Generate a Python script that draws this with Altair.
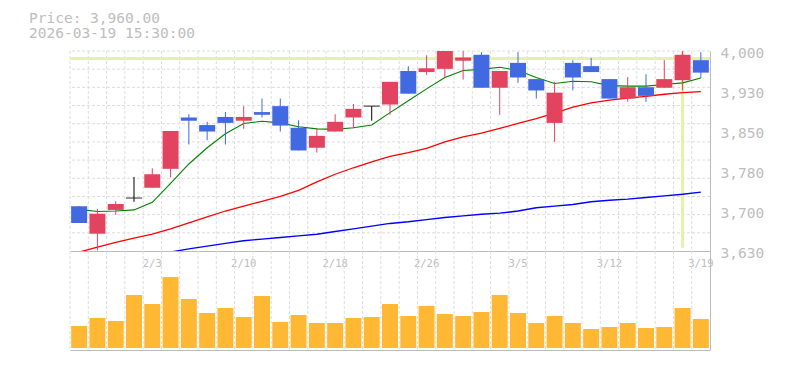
import altair as alt
import pandas as pd

# ---------------- data ----------------
dates = ["1/28", "1/29", "1/30", "2/2", "2/3", "2/4", "2/5", "2/6", "2/9", "2/10",
         "2/12", "2/13", "2/16", "2/17", "2/18", "2/19", "2/20", "2/24", "2/25", "2/26",
         "2/27", "3/2", "3/3", "3/4", "3/5", "3/6", "3/9", "3/10", "3/11", "3/12",
         "3/13", "3/16", "3/17", "3/18", "3/19"]
opens = [3713, 3662, 3706, 3728, 3747, 3782, 3877, 3863, 3878, 3871,
         3887, 3898, 3858, 3821, 3851, 3877, 3898, 3901, 3963, 3961,
         3967, 3982, 3993, 3932, 3978, 3948, 3867, 3978, 3972, 3948,
         3912, 3933, 3932, 3946, 3983]
highs = [3713, 3708, 3722, 3767, 3783, 3852, 3883, 3869, 3887, 3898,
         3912, 3912, 3872, 3857, 3883, 3902, 3898, 3943, 3972, 3992,
         4020, 4010, 3998, 3963, 3998, 3948, 3943, 3983, 3987, 3948,
         3952, 3957, 3983, 4010, 3998]
lows = [3682, 3631, 3697, 3721, 3747, 3766, 3827, 3835, 3827, 3856,
        3877, 3851, 3816, 3812, 3851, 3857, 3871, 3882, 3921, 3956,
        3951, 3947, 3932, 3882, 3941, 3912, 3832, 3927, 3961, 3912,
        3906, 3906, 3932, 3927, 3950]
closes = [3682, 3699, 3717, 3728, 3772, 3852, 3871, 3851, 3867, 3878,
          3882, 3862, 3816, 3843, 3869, 3893, 3898, 3943, 3921, 3968,
          4005, 3988, 3932, 3963, 3951, 3927, 3923, 3951, 3961, 3912,
          3933, 3917, 3948, 3993, 3960]
ma5 = [3707, 3703, 3704, 3706, 3720, 3755, 3791, 3821, 3847, 3866,
       3870, 3867, 3860, 3856, 3855, 3858, 3863, 3886, 3908, 3930,
       3951, 3964, 3966, 3970, 3964, 3951, 3940, 3944, 3943, 3936,
       3935, 3935, 3938, 3941, 3950]
ma25 = [3628, 3637, 3646, 3654, 3661, 3671, 3682, 3693, 3704, 3713,
        3722, 3731, 3742, 3758, 3772, 3784, 3795, 3805, 3812, 3820,
        3832, 3841, 3848, 3857, 3866, 3875, 3885, 3896, 3904, 3909,
        3913, 3916, 3920, 3923, 3925]
ma75 = [None, None, None, None, None, 3628, 3634, 3639, 3644, 3649,
        3652, 3655, 3658, 3661, 3666, 3671, 3676, 3681, 3684, 3688,
        3692, 3695, 3698, 3700, 3704, 3710, 3713, 3716, 3721, 3724,
        3726, 3729, 3732, 3735, 3739]
volumes = [220, 300, 270, 530, 440, 710, 490, 350, 400, 310,
           520, 260, 330, 250, 250, 300, 310, 440, 320, 420,
           340, 320, 360, 530, 350, 250, 320, 250, 190, 210,
           250, 200, 210, 400, 290]

x_labels = ["2/3", "2/10", "2/18", "2/26", "3/5", "3/12", "3/19"]
y_ticks = [3630, 3704, 3778, 3852, 3926, 4000]
price_domain = [3630, 4000]
volume_domain = [-20, 970]
title_lines = ["Price: 3,960.00", "2026-03-19 15:30:00"]
cursor_date = ["3/18"]
cursor_price = [3986]
cursor_span = [4000, 3636]

# ---------------- styles ----------------
RED = "#e2445f"
BLUE = "#4169e1"
VOL = "#ffb833"
GRID = "#dddddd"
AXIS = "#bbbbbb"
TXT = "#bdbdbd"
CROSS = "#e3f2a8"
FONT = "DejaVu Sans Mono"
W = 640
H_PRICE = 200
H_VOL = 99

n_grid = 11
grid_vals = [price_domain[0] + k * (price_domain[1] - price_domain[0]) / n_grid for k in range(1, n_grid + 1)]

def direction(o, c):
    if c > o:
        return "up"
    if c < o:
        return "down"
    return "flat"

candles = pd.DataFrame({
    "date": dates, "open": opens, "high": highs, "low": lows, "close": closes,
    "dir": [direction(o, c) for o, c in zip(opens, closes)],
})
ma_df = pd.DataFrame({"date": dates, "ma5": ma5, "ma25": ma25, "ma75": ma75})
vol_df = pd.DataFrame({"date": dates, "volume": volumes})
dates_df = pd.DataFrame({"date": dates})
grid_df = pd.DataFrame({"g": grid_vals})
cross_df = pd.DataFrame({"date": cursor_date, "p": cursor_price,
                         "top": [cursor_span[0]], "bottom": [cursor_span[1]]})

xscale = alt.Scale(domain=dates, paddingInner=0, paddingOuter=0)
yscale = alt.Scale(domain=price_domain, nice=False, zero=False)
vscale = alt.Scale(domain=volume_domain, nice=False, zero=False)

xaxis_price = alt.Axis(values=x_labels, labelAngle=0, ticks=False, tickSize=0, grid=False,
                       domain=True, domainColor=AXIS, labelFontSize=10.5, labelPadding=7,
                       labelColor=TXT, labelFont=FONT, title=None)
xaxis_vol = alt.Axis(labels=False, ticks=False, tickSize=0, grid=False, domain=True,
                     domainColor=AXIS, title=None)
yaxis_price = alt.Axis(orient="right", values=y_ticks,
                       labelExpr="format(round(datum.value / 10) * 10, ',')",
                       ticks=False, tickSize=0, grid=False, domain=True, domainColor=AXIS,
                       labelPadding=10, labelOffset=2, labelFontSize=14.5, labelColor=TXT,
                       labelFont=FONT, title=None)
yaxis_vol = alt.Axis(orient="right", labels=False, ticks=False, tickSize=0, grid=False,
                     domain=True, domainColor=AXIS, title=None)

X = alt.X("date:N", sort=dates, scale=xscale, axis=xaxis_price, title=None)
Xg = alt.X("date:N", sort=dates, scale=xscale, axis=xaxis_price, title=None, bandPosition=0)

def Yp(field):
    return alt.Y(field, scale=yscale, axis=yaxis_price, title=None)

color_dir = alt.Color("dir:N", scale=alt.Scale(domain=["up", "down", "flat"],
                                               range=[RED, BLUE, "black"]), legend=None)

# ---------------- price panel ----------------
vgrid = alt.Chart(dates_df).mark_rule(color=GRID, strokeDash=[3, 2], strokeWidth=1).encode(x=Xg)
hgrid = alt.Chart(grid_df).mark_rule(color=GRID, strokeDash=[3, 2], strokeWidth=1).encode(y=Yp("g:Q"))
cross_h = alt.Chart(cross_df).mark_rule(color=CROSS, strokeWidth=3).encode(y=Yp("p:Q"))
cross_v = alt.Chart(cross_df).mark_rule(color=CROSS, strokeWidth=3, clip=True).encode(
    x=X, y=Yp("top:Q"), y2="bottom:Q")

l75 = alt.Chart(ma_df).mark_line(color="blue", strokeWidth=1.4, clip=True).encode(x=X, y=Yp("ma75:Q"))
l25 = alt.Chart(ma_df).mark_line(color="red", strokeWidth=1.3, clip=True).encode(x=X, y=Yp("ma25:Q"))
l5 = alt.Chart(ma_df).mark_line(color="green", strokeWidth=1.1, clip=True).encode(x=X, y=Yp("ma5:Q"))

wicks = alt.Chart(candles).mark_rule(strokeWidth=1, clip=True).encode(
    x=X, y=Yp("low:Q"), y2="high:Q", color=color_dir)
bodies = alt.Chart(candles).transform_filter("datum.dir != 'flat'").mark_bar(
    size=16, clip=True).encode(x=X, y=Yp("open:Q"), y2="close:Q", color=color_dir)
dojis = alt.Chart(candles).transform_filter("datum.dir == 'flat'").mark_tick(
    size=16, thickness=1.2, clip=True).encode(x=X, y=Yp("close:Q"), color=color_dir)

t1 = alt.Chart(pd.DataFrame({"t": title_lines[:1]})).mark_text(
    align="left", baseline="alphabetic", font=FONT, fontSize=14.5, color=TXT).encode(
    text="t:N", x=alt.value(-41), y=alt.value(-28))
t2 = alt.Chart(pd.DataFrame({"t": title_lines[1:]})).mark_text(
    align="left", baseline="alphabetic", font=FONT, fontSize=14.5, color=TXT).encode(
    text="t:N", x=alt.value(-41), y=alt.value(-13.5))

price = alt.layer(vgrid, hgrid, cross_h, cross_v, l75, l25, l5, wicks, bodies, dojis, t1, t2
                  ).properties(width=W, height=H_PRICE)

# ---------------- volume panel ----------------
Xv = alt.X("date:N", sort=dates, scale=xscale, axis=xaxis_vol, title=None)
Xvg = alt.X("date:N", sort=dates, scale=xscale, axis=xaxis_vol, title=None, bandPosition=0)
vgrid2 = alt.Chart(dates_df).mark_rule(color=GRID, strokeDash=[3, 2], strokeWidth=1).encode(x=Xvg)
vbars = alt.Chart(vol_df).mark_bar(size=16, color=VOL).encode(
    x=Xv, y=alt.Y("volume:Q", scale=vscale, axis=yaxis_vol, title=None))
volume = alt.layer(vgrid2, vbars).properties(width=W, height=H_VOL)

chart = alt.vconcat(price, volume, spacing=0, bounds="flush").properties(
    padding={"left": 21, "top": 3, "right": 5, "bottom": 5},
    background="white",
).configure_view(strokeWidth=0)

chart.save("out.html", embed_options={"renderer": "svg", "actions": False})
